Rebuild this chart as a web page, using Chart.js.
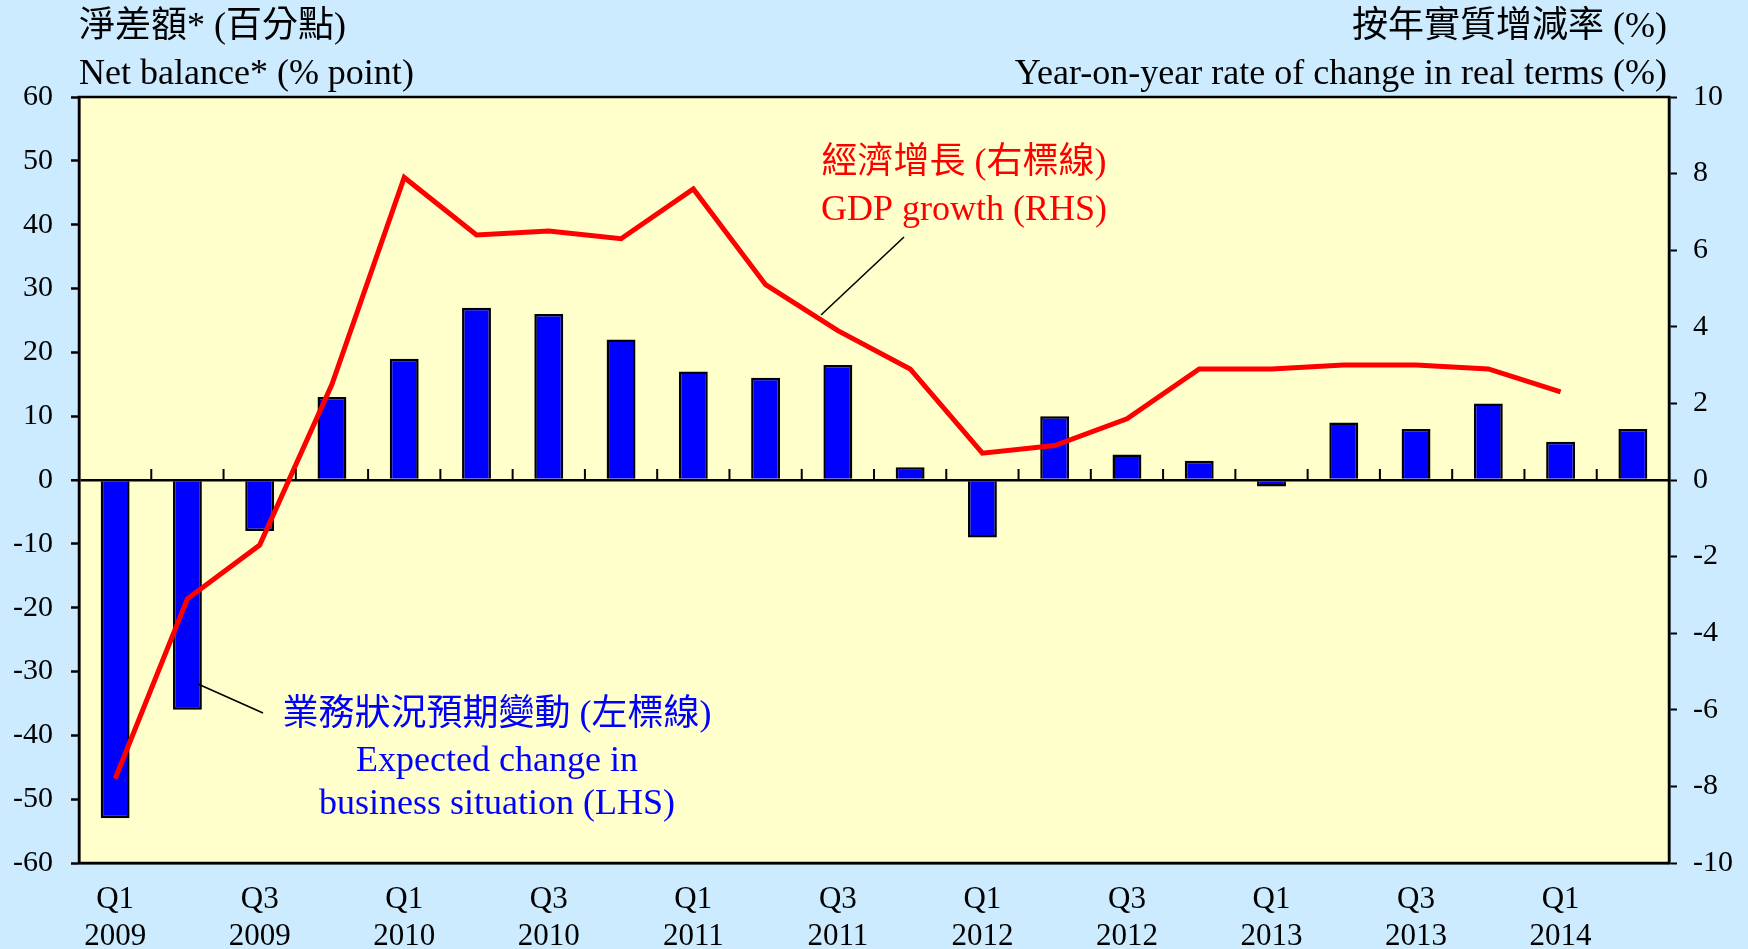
<!DOCTYPE html>
<html>
<head>
<meta charset="utf-8">
<script src="https://cdn.jsdelivr.net/npm/chart.js@4"></script>
<style>
  html, body { margin: 0; padding: 0; background: #ccebff; }
  #wrap { width: 1748px; height: 949px; }
</style>
</head>
<body>
<div id="wrap"><canvas id="Courbes"></canvas></div>
<script>
const quarters = [
  "Q1 2009", "Q2 2009", "Q3 2009", "Q4 2009",
  "Q1 2010", "Q2 2010", "Q3 2010", "Q4 2010",
  "Q1 2011", "Q2 2011", "Q3 2011", "Q4 2011",
  "Q1 2012", "Q2 2012", "Q3 2012", "Q4 2012",
  "Q1 2013", "Q2 2013", "Q3 2013", "Q4 2013",
  "Q1 2014", "Q2 2014",
];
// expected change in business situation, net balance (LHS)
const netBalance = [-53, -36, -8, 13, 19, 27, 26, 22, 17, 16, 18, 2, -9, 10, 4, 3, -1, 9, 8, 12, 6, 8];
// GDP growth, % yoy (RHS)
const gdpGrowth = [-7.8, -3.1, -1.7, 2.5, 7.9, 6.4, 6.5, 6.3, 7.6, 5.1, 3.9, 2.9, 0.7, 0.9, 1.6, 2.9, 2.9, 3.0, 3.0, 2.9, 2.3, null];
const leftTicks = [-60, -50, -40, -30, -20, -10, 0, 10, 20, 30, 40, 50, 60];
const rightTicks = [-10, -8, -6, -4, -2, 0, 2, 4, 6, 8, 10];

const FONT = "'Liberation Serif', 'Noto Sans CJK TC', serif";

// fonds, cadre, petites graduations sur l'axe zéro, titres et annotations
const decor = {
  id: "decor",
  beforeDraw(chart) {
    const { ctx, chartArea: a } = chart;
    ctx.save();
    ctx.fillStyle = "#ccebff";
    ctx.fillRect(0, 0, chart.width, chart.height);
    ctx.fillStyle = "#ffffcc";
    ctx.fillRect(a.left, a.top, a.right - a.left, a.bottom - a.top);
    ctx.restore();
  },
  afterDatasetsDraw(chart) {
    const { ctx, chartArea: a, scales } = chart;
    const y0 = scales.y.getPixelForValue(0);
    ctx.save();
    ctx.strokeStyle = "#000";
    ctx.lineWidth = 2;
    for (let i = 1; i < quarters.length; i++) {
      const x = (scales.x.getPixelForValue(i - 1) + scales.x.getPixelForValue(i)) / 2;
      ctx.beginPath();
      ctx.moveTo(x, y0);
      ctx.lineTo(x, y0 - 11);
      ctx.stroke();
    }
    ctx.lineWidth = 2.5;
    ctx.strokeRect(a.left, a.top, a.right - a.left, a.bottom - a.top);

    // leader lines
    ctx.lineWidth = 1.6;
    ctx.beginPath();
    ctx.moveTo(904, 237);
    ctx.lineTo(821, 315);
    ctx.moveTo(263, 713);
    ctx.lineTo(198, 684);
    ctx.stroke();

    ctx.textBaseline = "middle";
    ctx.font = "36px " + FONT;
    ctx.fillStyle = "#000";
    ctx.textAlign = "left";
    ctx.fillText("淨差額* (百分點)", 79, 28);
    ctx.fillText("Net balance* (% point)", 79, 75);
    ctx.textAlign = "right";
    ctx.fillText("按年實質增減率 (%)", 1667, 28);
    ctx.fillText("Year-on-year rate of change in real terms (%)", 1667, 75);

    ctx.textAlign = "center";
    ctx.fillStyle = "#ff0000";
    ctx.fillText("經濟增長 (右標線)", 964, 164);
    ctx.fillText("GDP growth (RHS)", 964, 211);
    ctx.fillStyle = "#0000ff";
    ctx.fillText("業務狀況預期變動 (左標線)", 497, 716);
    ctx.fillText("Expected change in", 497, 762);
    ctx.fillText("business situation (LHS)", 497, 805);
    ctx.restore();
  },
};

let ctx = document.getElementById("Courbes").getContext("2d");
let Courbes = new Chart(ctx, {
  data: {
    labels: quarters,
    datasets: [
      {
        type: "line",
        label: "GDP growth (RHS)",
        data: gdpGrowth,
        yAxisID: "y1",
        borderColor: "#ff0000",
        borderWidth: 5,
        borderJoinStyle: "miter",
        pointRadius: 0,
        tension: 0,
        order: 0,
      },
      {
        type: "bar",
        label: "Expected change in business situation (LHS)",
        data: netBalance,
        yAxisID: "y",
        backgroundColor: "#0000ff",
        borderColor: "#000",
        borderWidth: 2.5,
        barPercentage: 0.4,
        categoryPercentage: 1,
        order: 1,
      },
    ],
  },
  options: {
    responsive: true,
    maintainAspectRatio: false,
    animation: false,
    layout: { padding: { top: 97 } },
    plugins: {
      legend: { display: false },
      tooltip: { enabled: false },
    },
    scales: {
      x: {
        offset: true,
        grid: { display: false, drawTicks: false },
        border: { display: true, color: "#000", width: 2.5 },
        ticks: {
          autoSkip: false,
          maxRotation: 0,
          padding: 19,
          color: "#000",
          font: { family: FONT, size: 31, lineHeight: 1.18 },
          callback: function (value) {
            const q = quarters[value].split(" ");
            return q[0] === "Q1" || q[0] === "Q3" ? q : "";
          },
        },
        afterFit: (s) => { s.height = 86; },
      },
      y: {
        position: "left",
        min: leftTicks[0],
        max: leftTicks[leftTicks.length - 1],
        border: { display: true, color: "#000", width: 2.5 },
        grid: {
          color: (c) => (c.tick && c.tick.value === 0 ? "#000" : "transparent"),
          lineWidth: (c) => (c.tick && c.tick.value === 0 ? 2.5 : 1),
          tickColor: "#000",
          tickLength: 8,
          tickWidth: 2.5,
        },
        ticks: {
          stepSize: 5,
          padding: 18,
          color: "#000",
          font: { family: FONT, size: 30 },
          callback: function (value) {
            return leftTicks.includes(value) ? String(value) : "";
          },
        },
        afterFit: (s) => { s.width = 79; },
      },
      y1: {
        position: "right",
        min: rightTicks[0],
        max: rightTicks[rightTicks.length - 1],
        border: { display: true, color: "#000", width: 2.5 },
        grid: {
          drawOnChartArea: false,
          tickColor: "#000",
          tickLength: 8,
          tickWidth: 2,
        },
        ticks: {
          stepSize: 1,
          padding: 16,
          color: "#000",
          font: { family: FONT, size: 30 },
          callback: function (value) {
            return rightTicks.includes(value) ? String(value) : "";
          },
        },
        afterFit: (s) => { s.width = 79; },
      },
    },
  },
  plugins: [decor],
});
</script>
</body>
</html>
